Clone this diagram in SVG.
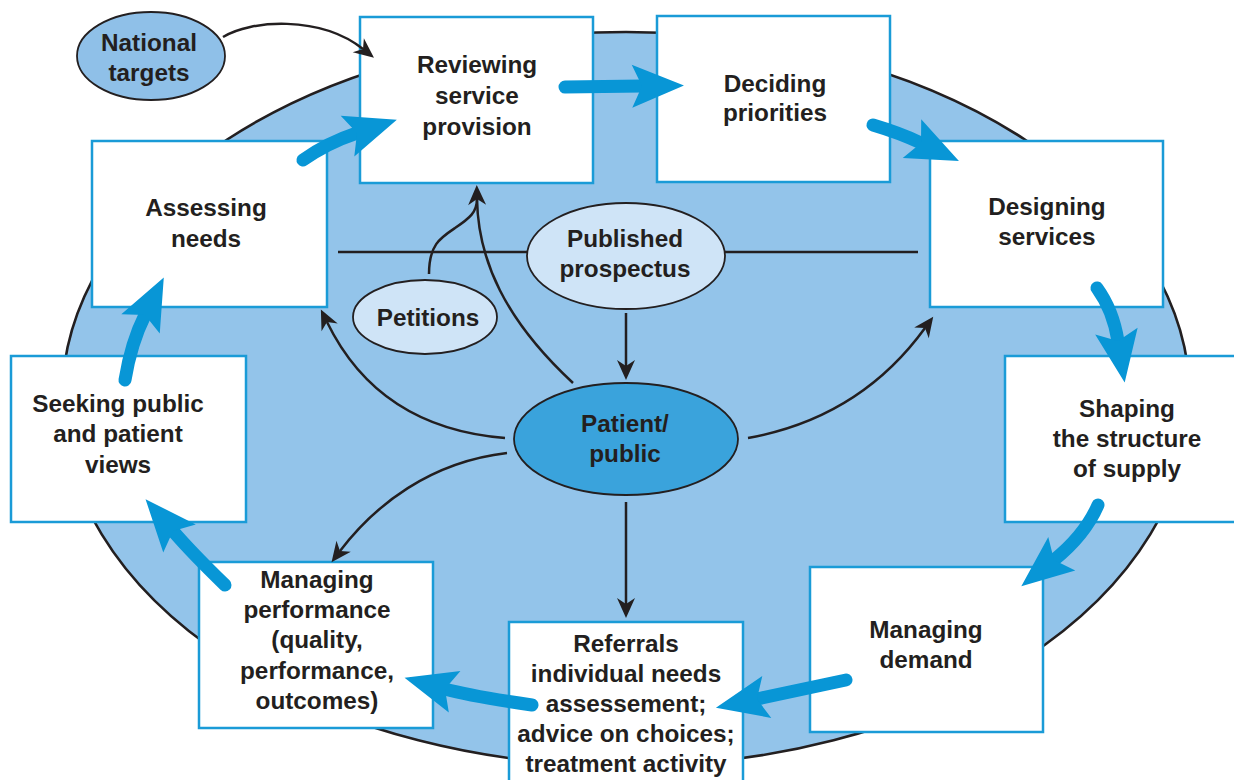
<svg xmlns="http://www.w3.org/2000/svg" width="1234" height="780" viewBox="0 0 1234 780">
<style>
.box{fill:#ffffff;stroke:#1a9bd7;stroke-width:2.5}
.t{font-family:"Liberation Sans",Arial,sans-serif;font-weight:bold;font-size:24.3px;fill:#231f20;text-anchor:middle}
.blk{fill:none;stroke:#231f20;stroke-width:2.5}
.blu{fill:none;stroke:#0896d6;stroke-width:13;stroke-linecap:round}
.oval{stroke:#231f20;stroke-width:1.8}
</style>
<defs>
<marker id="bh" markerUnits="userSpaceOnUse" viewBox="-12 -24 56 48" refX="0" refY="0" markerWidth="56" markerHeight="48" orient="auto" overflow="visible">
<path d="M-10,-21.5 L42,0 L-10,21.5 L0,0 Z" fill="#0896d6"/>
</marker>
<marker id="kh" markerUnits="userSpaceOnUse" viewBox="-8 -10 24 20" refX="0" refY="0" markerWidth="24" markerHeight="20" orient="auto" overflow="visible">
<path d="M-6,-9 L14,0 L-6,9 L0,0 Z" fill="#231f20"/>
</marker>
</defs>
<rect width="1234" height="780" fill="#ffffff"/>
<g id="background">
<ellipse cx="626" cy="399" rx="564" ry="367" fill="#93c4ea" stroke="#231f20" stroke-width="2.6"/>
<line x1="338" y1="252" x2="530" y2="252" stroke="#231f20" stroke-width="2.6"/>
<line x1="722" y1="252" x2="918" y2="252" stroke="#231f20" stroke-width="2.6"/>
</g>
<g id="national-targets">
<ellipse class="oval" cx="151" cy="56" rx="74" ry="44" fill="#8fc0e8"/>
<text class="t" x="149" y="51">National</text>
<text class="t" x="149" y="81">targets</text>
</g>
<g id="reviewing">
<rect class="box" x="360" y="17" width="233" height="166"/>
<text class="t" x="477" y="73">Reviewing</text>
<text class="t" x="477" y="104">service</text>
<text class="t" x="477" y="135">provision</text>
</g>
<g id="deciding">
<rect class="box" x="657" y="16" width="233" height="166"/>
<text class="t" x="775" y="92">Deciding</text>
<text class="t" x="775" y="121">priorities</text>
</g>
<g id="designing">
<rect class="box" x="930" y="141" width="233" height="166"/>
<text class="t" x="1047" y="215">Designing</text>
<text class="t" x="1047" y="245">services</text>
</g>
<g id="shaping">
<rect class="box" x="1005" y="356" width="250" height="166"/>
<text class="t" x="1127" y="417">Shaping</text>
<text class="t" x="1127" y="447">the structure</text>
<text class="t" x="1127" y="477">of supply</text>
</g>
<g id="managing-demand">
<rect class="box" x="810" y="567" width="233" height="165"/>
<text class="t" x="926" y="638">Managing</text>
<text class="t" x="926" y="668">demand</text>
</g>
<g id="referrals">
<rect class="box" x="509" y="622" width="234" height="175"/>
<text class="t" x="626" y="652">Referrals</text>
<text class="t" x="626" y="682">individual needs</text>
<text class="t" x="626" y="712">assessement;</text>
<text class="t" x="626" y="742">advice on choices;</text>
<text class="t" x="626" y="772">treatment activity</text>
</g>
<g id="managing-performance">
<rect class="box" x="199" y="562" width="234" height="166"/>
<text class="t" x="317" y="588">Managing</text>
<text class="t" x="317" y="618">performance</text>
<text class="t" x="317" y="648">(quality,</text>
<text class="t" x="317" y="679">performance,</text>
<text class="t" x="317" y="709">outcomes)</text>
</g>
<g id="seeking">
<rect class="box" x="11" y="356" width="235" height="166"/>
<text class="t" x="118" y="412">Seeking public</text>
<text class="t" x="118" y="442">and patient</text>
<text class="t" x="118" y="473">views</text>
</g>
<g id="assessing">
<rect class="box" x="92" y="141" width="235" height="166"/>
<text class="t" x="206" y="216">Assessing</text>
<text class="t" x="206" y="247">needs</text>
</g>
<g id="published-prospectus">
<ellipse class="oval" cx="626" cy="256" rx="99" ry="53" fill="#cfe4f7"/>
<text class="t" x="625" y="247">Published</text>
<text class="t" x="625" y="277">prospectus</text>
</g>
<g id="petitions">
<ellipse class="oval" cx="425" cy="317" rx="72" ry="37" fill="#cfe4f7"/>
<text class="t" x="428" y="326">Petitions</text>
</g>
<g id="patient-public">
<ellipse class="oval" cx="626" cy="439" rx="112" ry="56" fill="#3aa3dc"/>
<text class="t" x="625" y="432">Patient/</text>
<text class="t" x="625" y="462">public</text>
</g>
<g id="connectors">
<path class="blk" d="M223,37 C250,20 320,15 363,49" marker-end="url(#kh)"/>
<path class="blk" d="M429,274 C429,245 440,238 455,228 C470,218 477,212 477,199"/>
<path class="blk" d="M573,383 C505,320 478,260 477,199" marker-end="url(#kh)"/>
<path class="blk" d="M505,438 C430,432 365,400 327,322" marker-end="url(#kh)"/>
<path class="blk" d="M748,438 C820,425 880,390 925,328" marker-end="url(#kh)"/>
<path class="blk" d="M507,453 C430,462 375,505 340,551" marker-end="url(#kh)"/>
<path class="blk" d="M626,313 L626,366" marker-end="url(#kh)"/>
<path class="blk" d="M626,502 L626,604" marker-end="url(#kh)"/>
<path class="blu" d="M303,160 Q327,143 357,133" marker-end="url(#bh)"/>
<path class="blu" d="M565,87 L642,86" marker-end="url(#bh)"/>
<path class="blu" d="M873,125 Q900,133 921,143" marker-end="url(#bh)"/>
<path class="blu" d="M1097,288 Q1113,310 1118,341" marker-end="url(#bh)"/>
<path class="blu" d="M1098,505 Q1085,535 1054,560" marker-end="url(#bh)"/>
<path class="blu" d="M846,680 L757,699" marker-end="url(#bh)"/>
<path class="blu" d="M532,705 Q470,696 445,689" marker-end="url(#bh)"/>
<path class="blu" d="M225,585 Q192,553 173,531" marker-end="url(#bh)"/>
<path class="blu" d="M125,380 Q131,343 145,315" marker-end="url(#bh)"/>
</g>
</svg>
